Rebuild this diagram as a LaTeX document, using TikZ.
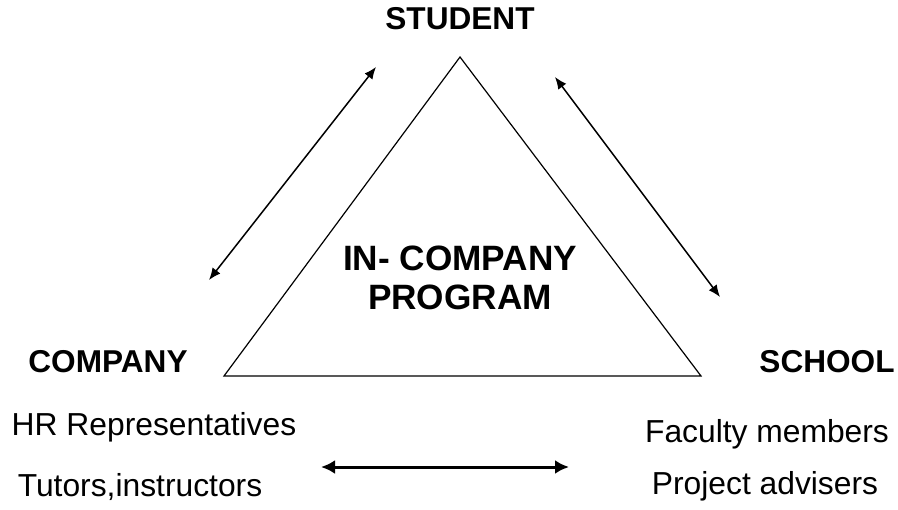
\documentclass[tikz,border=0pt]{standalone}
\usepackage{fontspec}
\setmainfont{Liberation Sans}
\usetikzlibrary{arrows.meta}

\tikzset{
  head/.style={font=\fontsize{15.8}{18}\selectfont\bfseries, text height=0.72em, text depth=0pt, inner sep=0pt},
  member/.style={font=\fontsize{15.9}{18}\selectfont, text height=0.72em, text depth=0pt, inner sep=0pt},
  middle/.style={head, font=\fontsize{17.6}{20}\selectfont\bfseries},
  link/.style={{Latex[length=6pt,width=5pt]}-{Latex[length=6pt,width=5pt]}, line width=0.75pt},
}

\begin{document}
\begin{tikzpicture}[x=0.5pt, y=-0.5pt]
          \useasboundingbox (0,0) rectangle (898,509);
          % the triangle
          \coordinate (apex) at (460,57);
          \coordinate (left) at (224,376);
          \coordinate (right) at (701,376);
          \draw [line width=0.6pt] (apex) -- (left) -- (right) -- cycle;
          \node [head] (student) at (460,22) {STUDENT};
          \node [head] (company) at (108,365) {COMPANY};
          \node [head] (school) at (827,365) {SCHOOL};
          \node [middle] (incompany) at (460,263.5) {IN- COMPANY};
          \node [middle] (program) at (460,302) {PROGRAM};
          \node [member] (hr) at (154,428) {HR Representatives};
          \node [member] (tutors) at (140,489) {Tutors,instructors};
          \node [member] (faculty) at (767,435) {Faculty members};
          \node [member] (advisers) at (765,487) {Project advisers};
          % arrows
          \coordinate (l1) at (209,280);
          \coordinate (l2) at (376,67);
          \coordinate (r1) at (555,77);
          \coordinate (r2) at (720,297);
          \coordinate (b1) at (321,467);
          \coordinate (b2) at (569,467);
          \draw [link] (l1) -- (l2);
          \draw [link] (r1) -- (r2);
          \draw [link, line width=1.5pt, {Latex[length=7pt,width=7pt]}-{Latex[length=7pt,width=7pt]}] (b1) -- (b2);
        \end{tikzpicture}
\end{document}
